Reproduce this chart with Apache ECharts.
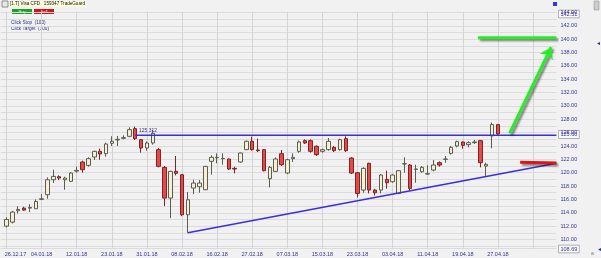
<!DOCTYPE html>
<html><head><meta charset="utf-8">
<script src="https://cdn.jsdelivr.net/npm/echarts@6/dist/echarts.min.js"></script>
<style>html,body{margin:0;padding:0;background:#f1f1f1}#c{width:601px;height:258px}</style>
</head><body><div id="c"></div>
<script>
const dates = ['26.12.17','27.12.17','28.12.17','29.12.17',
'02.01.18','03.01.18','04.01.18','05.01.18','08.01.18','09.01.18','10.01.18','11.01.18','12.01.18','16.01.18','17.01.18','18.01.18','19.01.18','22.01.18','23.01.18','24.01.18','25.01.18','26.01.18','29.01.18','30.01.18','31.01.18',
'01.02.18','02.02.18','05.02.18','06.02.18','07.02.18','08.02.18','09.02.18','12.02.18','13.02.18','14.02.18','15.02.18','16.02.18','20.02.18','21.02.18','22.02.18','23.02.18','26.02.18','27.02.18','28.02.18',
'01.03.18','02.03.18','05.03.18','06.03.18','07.03.18','08.03.18','09.03.18','12.03.18','13.03.18','14.03.18','15.03.18','16.03.18','19.03.18','20.03.18','21.03.18','22.03.18','23.03.18','26.03.18','27.03.18','28.03.18','29.03.18',
'02.04.18','03.04.18','04.04.18','05.04.18','06.04.18','09.04.18','10.04.18','11.04.18','12.04.18','13.04.18','16.04.18','17.04.18','18.04.18','19.04.18','20.04.18','23.04.18','24.04.18','25.04.18','26.04.18','27.04.18'];

const opens = [112.0,112.6,114.3,114.7,114.7,114.6,116.0,116.7,118.95,119.4,
118.95,118.7,120.25,121.6,121.1,122.35,123.2,122.85,124.4,124.9,
125.15,125.45,126.6,124.95,123.7,124.45,123.45,120.8,116.2,120.2,
119.7,113.7,117.7,117.9,117.45,121.7,122.25,122.1,122.05,120.65,
121.6,123.45,124.7,123.4,123.45,119.1,120.2,122.85,119.95,122.1,
123.2,124.8,124.8,123.95,123.2,123.45,123.8,123.45,125.1,122.2,
120.0,117.4,121.4,117.4,117.4,119.0,118.65,116.9,121.3,121.15,
120.5,120.15,119.8,120.4,121.5,122.0,122.9,124.0,124.6,124.2,
124.5,124.8,121.0,125.5,127.2];
const closes = [113.0,114.1,114.5,114.4,114.8,115.7,116.1,118.95,119.45,119.2,
119.2,119.95,120.35,120.45,122.1,123.2,122.8,124.3,124.7,125.0,
125.25,126.45,125.1,123.7,124.45,125.9,120.95,116.2,120.2,119.9,
113.7,115.95,118.45,118.45,120.95,122.3,122.3,122.15,120.55,120.55,
122.95,124.7,123.45,123.3,120.3,120.8,122.05,121.2,121.95,122.3,
124.6,124.45,123.2,122.7,123.45,124.7,123.3,124.95,123.3,119.95,
116.9,120.65,117.4,117.0,119.65,118.5,119.65,120.3,121.35,117.65,
120.55,120.8,119.85,121.15,121.15,122.05,123.8,124.65,124.1,124.5,
124.6,121.5,121.25,127.2,125.8];
const lows = [111.8,112.4,113.9,114.3,114.1,114.6,115.9,116.1,118.45,118.9,
117.45,118.6,120.0,120.0,120.9,121.9,121.95,122.4,124.0,124.0,
125.0,125.3,124.9,123.0,123.3,124.2,120.8,115.0,113.2,119.6,
113.5,111.0,116.8,117.0,117.4,119.7,121.4,121.2,120.4,119.9,
121.5,123.4,123.3,123.1,120.2,117.8,120.1,121.0,119.8,121.6,
123.0,124.3,123.0,122.5,123.0,123.3,123.1,123.3,123.1,119.8,
116.3,117.0,116.9,116.6,116.9,117.6,118.5,116.8,120.0,117.3,
118.5,120.0,119.7,120.2,120.9,121.5,122.7,123.8,123.6,123.8,
124.3,120.8,119.4,123.65,125.6];
const highs = [113.3,114.3,115.0,114.9,115.3,116.0,116.8,119.3,120.45,119.6,
119.4,120.1,120.9,121.8,122.3,123.3,123.6,124.5,125.45,125.5,
125.6,126.8,126.9,125.0,124.7,126.4,123.7,121.0,120.3,122.5,
119.8,117.1,118.95,118.9,121.0,122.6,122.9,122.9,122.1,120.9,
123.0,124.8,125.4,125.1,123.5,121.0,122.3,123.4,122.1,122.9,
124.8,125.0,125.0,124.1,123.6,125.2,124.0,125.1,125.45,122.3,
120.1,120.8,121.5,117.6,119.8,120.3,119.8,120.4,122.3,121.3,
121.2,121.0,121.1,121.9,121.7,122.5,124.0,124.8,124.7,124.7,
124.9,124.9,121.5,127.5,127.3];

// annotation lines: [candle index, price]
const resistancePts = [[22, 125.60], [94, 125.60]];
const supportPts = [[31, 111.0], [94, 121.4]];
const redPts = [[87.8, 121.55], [94, 121.45]];
const greenPts = [[80.6, 140.2], [94, 140.2]];
const arrowPts = [[86, 125.9], [93.1, 138.8]];
const priceMin = 108.69, priceMax = 144.06;
const boxLabels = ['142.51', '125.60', '108.69'];
const peakLabel = '125.312';

const padCount = 10;
const cats = [''].concat(dates, new Array(padCount).fill(''));
const candleData = dates.map((d, i) => [i, opens[i], closes[i], lows[i], highs[i]]);

const navy = '#34349a';
const font = 'Liberation Sans, Arial, sans-serif';
const shadow = {shadowColor: 'rgba(0,0,0,0.45)', shadowBlur: 2, shadowOffsetX: 2, shadowOffsetY: 2};
const showIdx = (idx) => idx >= 1 && (idx - 1) % 6 === 0;

const chart = echarts.init(document.getElementById('c'), null, {renderer: 'canvas'});
chart.setOption({
  animation: false,
  backgroundColor: '#f1f1f1',
  grid: {left: 0.65, right: 44.6, top: 12, bottom: 9.75, containLabel: false},
  xAxis: [{
    type: 'category', data: cats, boundaryGap: false,
    axisLine: {show: false}, axisTick: {show: false},
    axisLabel: {
      interval: (idx) => showIdx(idx), margin: 3, fontSize: 5.5, color: navy, fontFamily: font,
      formatter: (v, idx) => idx === 1 ? '{a|' + v + '}' : v,
      rich: {a: {padding: [0, 0, 0, 18], fontSize: 5.5, color: navy, fontFamily: font}}
    },
    splitLine: {show: true, interval: (idx) => showIdx(idx), lineStyle: {color: '#d3d3d3', width: 1}}
  }, {
    type: 'value', min: -1, max: 94, show: false
  }],
  yAxis: {
    type: 'value', position: 'right', min: priceMin, max: priceMax, minInterval: 1, maxInterval: 1,
    axisLine: {show: false}, axisTick: {show: false},
    axisLabel: {
      margin: 4, fontSize: 5.5, color: navy, fontFamily: font,
      formatter: (v) => (Math.abs(v - Math.round(v)) < 1e-6 && Math.round(v) % 2 === 0) ? v.toFixed(2) : ''
    },
    splitLine: {show: true, lineStyle: {color: '#dcdcdc', width: 1}}
  },
  series: [{
    type: 'candlestick', xAxisIndex: 1, data: candleData,
    encode: {x: 0, y: [1, 2, 3, 4]},
    barWidth: 4, clip: false,
    itemStyle: {color: '#f5f0d2', color0: '#e84848', borderColor: '#5c5c50', borderColor0: '#7a2626', borderWidth: 1}
  }, {
    type: 'line', xAxisIndex: 1, data: resistancePts, symbol: 'none',
    lineStyle: {color: '#3a2fdc', width: 1.5}
  }, {
    type: 'line', xAxisIndex: 1, data: supportPts, symbol: 'none',
    lineStyle: {color: '#3a2fdc', width: 1.5}
  }, {
    type: 'line', xAxisIndex: 1, data: redPts, symbol: 'none',
    lineStyle: Object.assign({color: '#e41212', width: 3}, shadow)
  }, {
    type: 'line', xAxisIndex: 1, data: greenPts, symbol: 'none',
    lineStyle: Object.assign({color: '#26ee26', width: 3}, shadow),
    markLine: {
      silent: true, symbol: ['none', 'arrow'], symbolSize: 11,
      label: {show: false},
      itemStyle: {color: '#26ee26'},
      lineStyle: Object.assign({color: '#26ee26', width: 3, type: 'solid'}, shadow),
      data: [[{coord: arrowPts[0]}, {coord: arrowPts[1]}]]
    }
  }],
  graphic: [
    {type: 'rect', shape: {x: 0, y: 0, width: 601, height: 8}, style: {fill: '#f1f1f1'}},
    {type: 'rect', shape: {x: 2, y: 1, width: 6, height: 6}, style: {fill: '#e8e8e8', stroke: '#666', lineWidth: 0.7}},
    {type: 'text', x: 9, y: 1.5, style: {text: '[1.T] Visa CFD   159347 TradeGuard', font: '4.6px ' + font, fill: '#111', backgroundColor: '#ffffd6', padding: [0, 1]}},
    {type: 'rect', shape: {x: 12, y: 9, width: 20, height: 5}, style: {fill: '#1f9e2a'}},
    {type: 'text', x: 22, y: 9.4, style: {text: 'Buy', font: '4.2px ' + font, fill: '#d8ffd8', align: 'center'}},
    {type: 'rect', shape: {x: 34, y: 9, width: 20, height: 5}, style: {fill: '#c81818'}},
    {type: 'text', x: 44, y: 9.4, style: {text: 'Sell', font: '4.2px ' + font, fill: '#ffd8d8', align: 'center'}},
    {type: 'text', x: 11, y: 20.5, style: {text: 'Click Stop  (100)', font: '4.7px ' + font, fill: '#2b3580'}},
    {type: 'text', x: 11, y: 26, style: {text: 'Click Target  (100)', font: '4.7px ' + font, fill: '#2b3580'}},
    {type: 'text', x: 139, y: 128.5, style: {text: peakLabel, font: '5px ' + font, fill: navy}},
    {type: 'text', x: 559, y: 10.5, style: {text: boxLabels[0], font: '5.5px ' + font, fill: navy, backgroundColor: '#f8f8f8', borderColor: '#999', borderWidth: 0.7, padding: [0.5, 1.5]}},
    {type: 'text', x: 559, y: 131, style: {text: boxLabels[1], font: '5.5px ' + font, fill: navy, backgroundColor: '#f8f8f8', borderColor: '#999', borderWidth: 0.7, padding: [0.5, 1.5]}},
    {type: 'text', x: 559, y: 245.5, style: {text: boxLabels[2], font: '5.5px ' + font, fill: navy, backgroundColor: '#f8f8f8', borderColor: '#999', borderWidth: 0.7, padding: [0.5, 1.5]}},
    {type: 'rect', shape: {x: 553, y: 2, width: 4, height: 4}, style: {fill: '#3333ee'}},
    {type: 'rect', shape: {x: 594, y: 1, width: 5, height: 9}, style: {fill: '#cccccc', stroke: '#888', lineWidth: 0.5}},
    {type: 'text', x: 596, y: 41, style: {text: '◄', font: '5px ' + font, fill: '#2233aa'}},
    {type: 'text', x: 597, y: 247, style: {text: '◄', font: '5px ' + font, fill: '#2233aa'}},
    {type: 'text', x: 591, y: 251, style: {text: 'a', font: '5px ' + font, fill: '#777'}}
  ]
});
</script>
</body></html>
